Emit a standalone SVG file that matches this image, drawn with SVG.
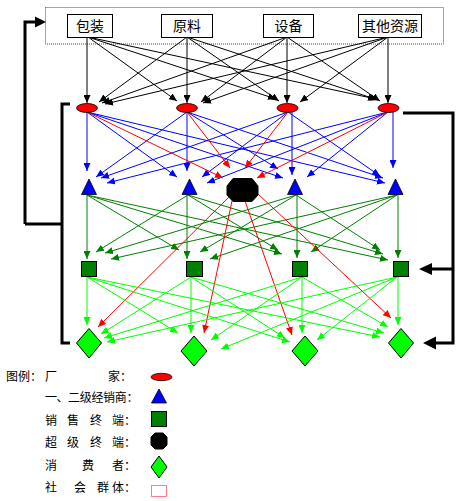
<svg xmlns="http://www.w3.org/2000/svg" width="462" height="501" viewBox="0 0 462 501">
<style>
.k{stroke:#000;stroke-width:1;fill:none;marker-end:url(#ak)}
.b{stroke:#0000FF;stroke-width:1;fill:none;marker-end:url(#ab)}
.r{stroke:#FF0000;stroke-width:1;fill:none;marker-end:url(#ar)}
.g{stroke:#008000;stroke-width:1;fill:none;marker-end:url(#ag)}
.l{stroke:#00FF00;stroke-width:1;fill:none;marker-end:url(#al)}
.thick{stroke:#000;stroke-width:3;fill:none}
.box{fill:#fff;stroke:#000;stroke-width:1}
.bt{font-family:"Noto Sans CJK SC","Noto Sans CJK JP",sans-serif;font-size:14px;text-anchor:middle;fill:#000}
.lt{font-family:"Noto Sans CJK SC","Noto Sans CJK JP",sans-serif;font-size:12px;fill:#000}
.ell{fill:#FF0000;stroke:#000;stroke-width:0.8}
.tri{fill:#0000FF;stroke:#000;stroke-width:0.8}
.sq{fill:#008000;stroke:#000;stroke-width:1}
.dia{fill:#00FF00;stroke:#000;stroke-width:1}
.oct{fill:#000;stroke:#000;stroke-width:1}
.dot{fill:none;stroke:#FF0000;stroke-width:1;stroke-dasharray:1 1}
</style>
<defs>
<marker id="ak" viewBox="0 0 8 7" refX="8" refY="3.5" markerWidth="8" markerHeight="7" markerUnits="userSpaceOnUse" orient="auto"><path d="M0,0L8,3.5L0,7z" fill="#000"/></marker>
<marker id="ab" viewBox="0 0 8 7" refX="8" refY="3.5" markerWidth="8" markerHeight="7" markerUnits="userSpaceOnUse" orient="auto"><path d="M0,0L8,3.5L0,7z" fill="#0000FF"/></marker>
<marker id="ar" viewBox="0 0 8 7" refX="8" refY="3.5" markerWidth="8" markerHeight="7" markerUnits="userSpaceOnUse" orient="auto"><path d="M0,0L8,3.5L0,7z" fill="#FF0000"/></marker>
<marker id="ag" viewBox="0 0 8 7" refX="8" refY="3.5" markerWidth="8" markerHeight="7" markerUnits="userSpaceOnUse" orient="auto"><path d="M0,0L8,3.5L0,7z" fill="#008000"/></marker>
<marker id="al" viewBox="0 0 8 7" refX="8" refY="3.5" markerWidth="8" markerHeight="7" markerUnits="userSpaceOnUse" orient="auto"><path d="M0,0L8,3.5L0,7z" fill="#00FF00"/></marker>
</defs>
<rect width="462" height="501" fill="#fff"/>
<g id="social-group">
<rect class="dot" x="45.5" y="7.5" width="398" height="36.5"/>
</g>
<g id="connectors">
<!-- boxes to manufacturers -->
<line class="k" x1="87" y1="37" x2="87" y2="103"/>
<line class="k" x1="187" y1="37" x2="99" y2="102"/>
<line class="k" x1="287" y1="37" x2="102" y2="103"/>
<line class="k" x1="388" y1="37" x2="105" y2="104"/>
<line class="k" x1="88" y1="37" x2="177" y2="101"/>
<line class="k" x1="187" y1="37" x2="187" y2="103"/>
<line class="k" x1="287" y1="37" x2="201" y2="102"/>
<line class="k" x1="388" y1="37" x2="203" y2="103"/>
<line class="k" x1="88" y1="37" x2="276" y2="99"/>
<line class="k" x1="187" y1="37" x2="279" y2="101"/>
<line class="k" x1="287" y1="37" x2="287" y2="103"/>
<line class="k" x1="388" y1="37" x2="300" y2="102"/>
<line class="k" x1="88" y1="37" x2="376" y2="99"/>
<line class="k" x1="187" y1="37" x2="378" y2="100"/>
<line class="k" x1="287" y1="37" x2="380" y2="101"/>
<line class="k" x1="388" y1="37" x2="388" y2="103"/>
<!-- manufacturers to distributors -->
<line class="b" x1="87" y1="112" x2="87" y2="171"/>
<line class="b" x1="187" y1="112" x2="96" y2="177"/>
<line class="b" x1="288" y1="112" x2="101" y2="178"/>
<line class="b" x1="388" y1="112" x2="107" y2="183"/>
<line class="b" x1="87" y1="112" x2="177" y2="177"/>
<line class="b" x1="187" y1="112" x2="187" y2="171"/>
<line class="b" x1="288" y1="112" x2="202" y2="177"/>
<line class="b" x1="388" y1="112" x2="207" y2="183"/>
<line class="b" x1="87" y1="112" x2="283" y2="178"/>
<line class="b" x1="187" y1="112" x2="278" y2="169"/>
<line class="b" x1="292" y1="112" x2="292" y2="175"/>
<line class="b" x1="388" y1="112" x2="307" y2="177"/>
<line class="b" x1="87" y1="112" x2="385" y2="183"/>
<line class="b" x1="187" y1="112" x2="383" y2="178"/>
<line class="b" x1="288" y1="112" x2="380" y2="176"/>
<line class="b" x1="393" y1="112" x2="393" y2="168"/>
<!-- manufacturers to super terminal -->
<line class="r" x1="87" y1="112" x2="223" y2="178"/>
<line class="r" x1="187" y1="112" x2="230" y2="168"/>
<line class="r" x1="288" y1="112" x2="245" y2="168"/>
<line class="r" x1="388" y1="112" x2="257" y2="178"/>
<!-- distributors to sales terminals -->
<line class="g" x1="87" y1="195" x2="87" y2="259"/>
<line class="g" x1="188" y1="195" x2="96" y2="252"/>
<line class="g" x1="296" y1="195" x2="105" y2="253"/>
<line class="g" x1="397" y1="195" x2="111" y2="259"/>
<line class="g" x1="87" y1="195" x2="179" y2="250"/>
<line class="g" x1="187" y1="195" x2="187" y2="259"/>
<line class="g" x1="296" y1="195" x2="200" y2="252"/>
<line class="g" x1="397" y1="195" x2="210" y2="259"/>
<line class="g" x1="87" y1="195" x2="282" y2="254"/>
<line class="g" x1="188" y1="195" x2="278" y2="250"/>
<line class="g" x1="297" y1="195" x2="297" y2="258"/>
<line class="g" x1="397" y1="195" x2="311" y2="252"/>
<line class="g" x1="87" y1="195" x2="388" y2="260"/>
<line class="g" x1="188" y1="195" x2="383" y2="254"/>
<line class="g" x1="296" y1="195" x2="380" y2="250"/>
<line class="g" x1="398" y1="195" x2="398" y2="258"/>
<!-- super terminal to consumers -->
<line class="r" x1="233" y1="193" x2="98" y2="327"/>
<line class="r" x1="232" y1="201" x2="204" y2="333"/>
<line class="r" x1="245" y1="201" x2="292" y2="335"/>
<line class="r" x1="258" y1="194" x2="391" y2="318"/>
<!-- sales terminals to consumers -->
<line class="l" x1="87" y1="277" x2="87" y2="325"/>
<line class="l" x1="191" y1="277" x2="101" y2="334"/>
<line class="l" x1="302" y1="277" x2="104" y2="338"/>
<line class="l" x1="397" y1="277" x2="107" y2="342"/>
<line class="l" x1="87" y1="277" x2="178" y2="333"/>
<line class="l" x1="191" y1="277" x2="191" y2="333"/>
<line class="l" x1="302" y1="277" x2="211" y2="340"/>
<line class="l" x1="397" y1="277" x2="221" y2="349"/>
<line class="l" x1="87" y1="277" x2="290" y2="342"/>
<line class="l" x1="191" y1="277" x2="285" y2="338"/>
<line class="l" x1="302" y1="277" x2="302" y2="333"/>
<line class="l" x1="397" y1="277" x2="317" y2="340"/>
<line class="l" x1="87" y1="277" x2="380" y2="337"/>
<line class="l" x1="191" y1="277" x2="384" y2="333"/>
<line class="l" x1="302" y1="277" x2="388" y2="327"/>
<line class="l" x1="398" y1="277" x2="398" y2="325"/>
<!-- feedback brackets -->
<polyline class="thick" points="70,104 62,104 62,343 70,343"/>
<line class="thick" x1="25" y1="224" x2="62" y2="224"/>
<polyline class="thick" points="25,224 25,22 37,22"/>
<polygon points="46,22 35,16.5 35,27.5" fill="#000"/>
<polyline class="thick" points="403,113 453,113 453,343 435,343"/>
<polygon points="423,343 436,336.5 436,349.5" fill="#000"/>
<line class="thick" x1="453" y1="269" x2="431" y2="269"/>
<polygon points="419,269 432,263 432,275" fill="#000"/>
</g>
<g id="box-packaging"><rect class="box" x="67.5" y="14.5" width="45" height="23"/><text class="bt" x="90" y="31">包装</text></g>
<g id="box-material"><rect class="box" x="161.5" y="14.5" width="51" height="23"/><text class="bt" x="187" y="31">原料</text></g>
<g id="box-equipment"><rect class="box" x="263.5" y="14.5" width="50" height="23"/><text class="bt" x="288.5" y="31">设备</text></g>
<g id="box-other"><rect class="box" x="358.5" y="14.5" width="63" height="23"/><text class="bt" x="390" y="31">其他资源</text></g>
<g id="manufacturer-1"><ellipse class="ell" cx="87" cy="108" rx="10.5" ry="4.5"/></g>
<g id="manufacturer-2"><ellipse class="ell" cx="187" cy="108" rx="10.5" ry="4.5"/></g>
<g id="manufacturer-3"><ellipse class="ell" cx="287.5" cy="108" rx="10.5" ry="4.5"/></g>
<g id="manufacturer-4"><ellipse class="ell" cx="388.5" cy="108" rx="10.5" ry="4.5"/></g>
<g id="distributor-1"><polygon class="tri" points="89,179 81.5,194.5 96.5,194.5"/></g>
<g id="distributor-2"><polygon class="tri" points="189.5,179 182,194.5 197,194.5"/></g>
<g id="distributor-3"><polygon class="tri" points="295,179 287.5,194.5 302.5,194.5"/></g>
<g id="distributor-4"><polygon class="tri" points="395.5,179 388,194.5 403,194.5"/></g>
<g id="super-terminal"><polygon class="oct" points="233,178.5 252,178.5 258,186 258,195 252,201.5 233,201.5 227,195 227,186"/></g>
<g id="terminal-1"><rect class="sq" x="81.5" y="261.5" width="15" height="15"/></g>
<g id="terminal-2"><rect class="sq" x="186.5" y="261.5" width="16" height="15"/></g>
<g id="terminal-3"><rect class="sq" x="292.5" y="261.5" width="15" height="15"/></g>
<g id="terminal-4"><rect class="sq" x="393.5" y="261.5" width="15" height="15"/></g>
<g id="consumer-1"><polygon class="dia" points="89,328.5 101.5,343 89,358 76.5,343"/></g>
<g id="consumer-2"><polygon class="dia" points="194,336 207,351 194,366 181,351"/></g>
<g id="consumer-3"><polygon class="dia" points="305,336 318,351 305,366 292,351"/></g>
<g id="consumer-4"><polygon class="dia" points="401,328.5 413.5,343 401,358 388.5,343"/></g>
<g id="legend">
<text class="lt" x="6" y="381">图例：</text>
<text class="lt" x="45" y="381">厂</text><text class="lt" x="108" y="381">家：</text>
<ellipse class="ell" cx="161.5" cy="377" rx="10.5" ry="3.7"/>
<text class="lt" x="45 56.5 68 79.7 91.4 103.1 114.8 126.5" y="402">一、二级经销商：</text>
<polygon class="tri" points="159,389 151.5,403 166.5,403"/>
<text class="lt" x="45 67 90 112 124" y="425">销售终端：</text>
<rect class="sq" x="151.5" y="411.5" width="15" height="15"/>
<text class="lt" x="45 67 90 112 124" y="447">超级终端：</text>
<polygon class="oct" points="155,433 163,433 167,437 167,445 163,449 155,449 151,445 151,437"/>
<text class="lt" x="45 82 112 124" y="470">消费者：</text>
<polygon class="dia" points="159,456 167,467 159,478 151,467"/>
<text class="lt" x="45 74 97 112 124" y="492">社会群体：</text>
<rect class="dot" x="151.5" y="485.5" width="15" height="11"/>
</g>
</svg>
